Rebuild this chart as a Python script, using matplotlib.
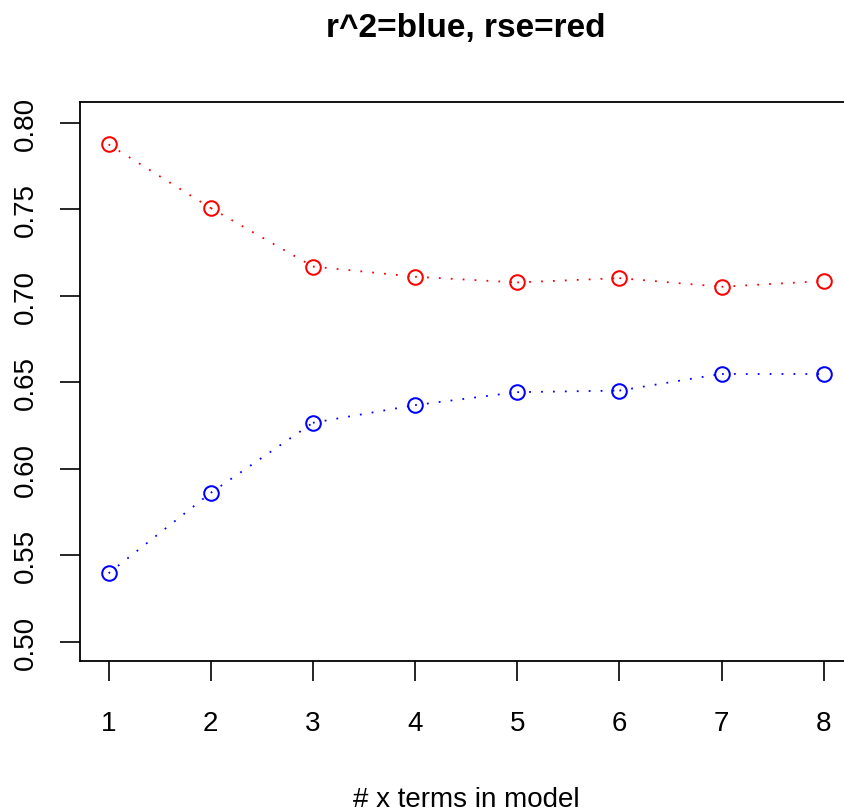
import matplotlib
matplotlib.use("Agg")
import matplotlib.pyplot as plt

plt.rcParams['font.family'] = ['Liberation Sans', 'DejaVu Sans']

n_terms = [1, 2, 3, 4, 5, 6, 7, 8]
r2 = [0.5395, 0.586, 0.6265, 0.6367, 0.6442, 0.6451, 0.6548, 0.6548]
rse = [0.7874, 0.7506, 0.7168, 0.7109, 0.7076, 0.7101, 0.7051, 0.7084]
yticks = [0.50, 0.55, 0.60, 0.65, 0.70, 0.75, 0.80]
ytick_labels = ["0.50", "0.55", "0.60", "0.65", "0.70", "0.75", "0.80"]

W, H = 844, 812
fig = plt.figure(figsize=(W / 100, H / 100), dpi=100)
left, right, top, bottom = 80, 852.3, 103, 662
ax = fig.add_axes([left / W, (H - bottom) / H, (right - left) / W, (bottom - top) / H])

def draw(xs, ys, color):
    for i in range(len(xs) - 1):
        ax.plot([xs[i], xs[i + 1]], [ys[i], ys[i + 1]], color=color, lw=1.3,
                linestyle=(0, (1.0, 5.6)), solid_capstyle='butt', dash_capstyle='butt',
                clip_on=False)
    ax.plot(xs, ys, linestyle='none', marker='o', markersize=10.5, markerfacecolor='none',
            markeredgecolor=color, markeredgewidth=1.45, clip_on=False)

draw(n_terms, rse, '#FF0000')
draw(n_terms, r2, '#0000FF')

ax.set_xlim(0.72, 8.28)
ax.set_ylim(0.4888, 0.8119)
ax.set_xticks(n_terms)
ax.set_xticklabels([str(v) for v in n_terms])
ax.set_yticks(yticks)
ax.set_yticklabels(ytick_labels, rotation=90, va='center')

for s in ax.spines.values():
    s.set_linewidth(1.3)
    s.set_color('black')

ax.tick_params(axis='both', direction='out', length=14.5, width=1.2, labelsize=20, colors='black')
ax.tick_params(axis='x', pad=21)
ax.tick_params(axis='y', pad=15)

fig.text(466 / W, 1 - 37 / H, "r^2=blue, rse=red", ha='center', va='baseline',
         fontsize=24, fontweight='bold')
fig.text(466 / W, 1 - 807 / H, "# x terms in model", ha='center', va='baseline', fontsize=20)

fig.savefig("out.png", dpi=100)
